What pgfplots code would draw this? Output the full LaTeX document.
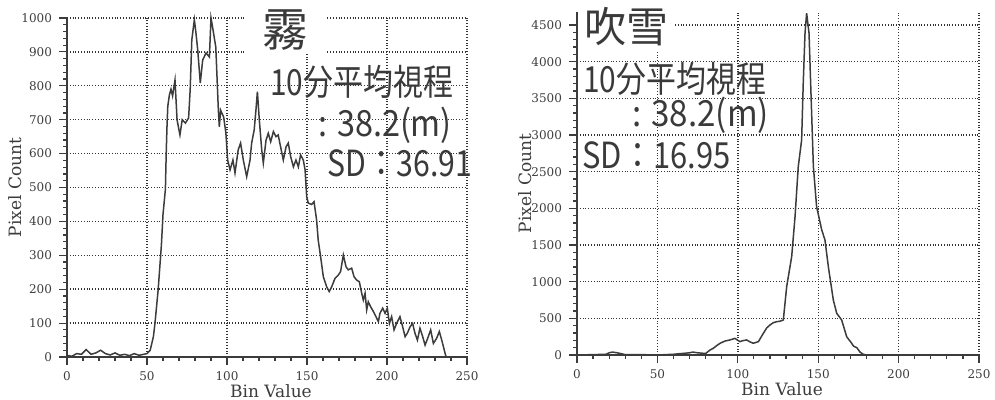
\documentclass[border=0pt]{standalone}
\usepackage{graphicx}
\usepackage{pgfplots}
\pgfplotsset{compat=1.18}
\usepackage{fontspec}
\setmainfont{DejaVu Serif}
\newfontfamily\cjk{Noto Sans CJK JP}
\definecolor{ink}{HTML}{3C3C3C}
\definecolor{txt}{HTML}{3A3A3A}
\pgfplotsset{
  histo/.style={
    scale only axis,
    xmin=0, xmax=250,
    axis lines=left,
    axis line style={-, draw=ink, line width=0.8pt},
    xtick={0,50,...,250}, minor x tick num=4,
    minor y tick num=4,
    grid=major,
    major grid style={densely dotted, draw=black!80, line width=0.7pt},
    tick align=outside,
    major tick length=4pt, minor tick length=2pt,
    every tick/.style={draw=ink, line width=0.6pt},
    ticklabel style={font=\fontsize{6}{7}\selectfont, text=ink},
    /pgf/number format/assume math mode=true,
    /pgf/number format/set thousands separator={},
    label style={font=\fontsize{8.5}{9}\selectfont, text=ink},
    clip=false,
  }
}
\begin{document}
\begin{tikzpicture}
% ---------- left: fog ----------
\begin{axis}[histo,
  at={(33.5pt,-178.5pt)}, anchor=south west,
  width=200pt, height=169.5pt,
  ymin=0, ymax=1000, ytick={0,100,...,1000},
  xlabel={Bin Value}, ylabel={Pixel Count},
  xlabel style={at={(axis description cs:0.51,-0.1)}, anchor=center},
  ylabel style={at={(axis description cs:-0.13,0.5)}, anchor=center},
]
\addplot[ink, line width=0.75pt] coordinates {
(0,5)(3,2)(6,10)(9,8)(12,22)(15,8)(18,12)(21,20)(24,10)(27,6)(30,12)(33,5)(36,8)(39,4)(42,10)(45,5)(48,8)(50,10)
(52,20)(54,60)(55,100)(57,200)(59,330)(60,420)(61.5,495)(62,600)(62.5,680)(63,740)(64,773)(65,790)(66,770)(67.5,817)
(68.8,699)(70.6,655)(72,700)(74,690)(76,705)(77,790)(78,935)(79.6,995)(80.5,960)(81.7,906)(83.3,808)(84.8,876)(86.9,897)
(89,885)(90,1000)(91,973)(93,914)(94.6,728)(95.2,679)(96,728)(97.9,708)(99.3,661)(100.4,581)(101.9,552)(103.7,581)
(105,543)(107,611)(108.5,631)(110.2,581)(112.3,532)(114.4,581)(115.4,631)(117,670)(118.1,729)(119,783)(120.2,699)
(121.7,611)(122.7,572)(124.4,640)(125.8,660)(127.3,635)(129,665)(130.6,650)(132,655)(133.5,620)(135.2,581)(136.9,620)
(138.3,631)(139.8,591)(141.5,561)(143.1,581)(144.6,561)(146,596)(147.7,581)(148.8,552)(149.8,473)(150.8,454)(152.9,450)
(154.4,458)(156,404)(157,345)(158.5,296)(160.2,237)(162.3,207)(163.9,193)(165.4,207)(167.5,232)(169.6,242)(171,252)
(172.7,301)(174.4,266)(175.8,257)(177.9,262)(179.4,237)(181,227)(182.7,222)(184.2,188)(185.2,168)(186.3,188)(187.3,139)
(188.3,163)(189.8,148)(191.5,134)(193.1,119)(194.6,104)(195.6,129)(197.3,144)(198.8,129)(200.2,144)(201.5,99)(202.9,119)
(204.4,80)(206,99)(208.1,119)(209.8,89)(211.3,60)(212.7,70)(214.4,89)(216,99)(217.5,70)(219,50)(220.6,85)(222.3,60)
(223.8,35)(225.8,60)(227.3,80)(229,40)(231,55)(232.7,75)(234.2,50)(236.3,11)(237,0)
};
\end{axis}
% ---------- right: blowing snow ----------
\begin{axis}[histo,
  at={(288.5pt,-177.5pt)}, anchor=south west,
  width=201pt, height=171.6pt,
  ymin=0, ymax=4680, ytick={0,500,...,4500},
  xlabel={Bin Value}, ylabel={Pixel Count},
  xlabel style={at={(axis description cs:0.51,-0.099)}, anchor=center},
  ylabel style={at={(axis description cs:-0.129,0.5)}, anchor=center},
]
\addplot[ink, line width=0.75pt] coordinates {
(0,0)(10,5)(18,10)(20,30)(22,40)(25,30)(28,15)(30,5)(40,5)(50,0)(60,10)(65,20)(70,30)(72,40)(75,30)(80,20)
(82.7,68)(84.7,91)(87,130)(89,160)(92,190)(95.1,205)(98.2,227)(100,200)(101.4,182)(103,195)(105.5,205)(107.5,180)
(109.6,160)(112.8,182)(115.9,296)(118,370)(120,409)(122,440)(124.2,454)(126,460)(128.3,477)(130.4,932)(133.5,1341)
(135.6,1887)(137.6,2569)(139.7,2933)(140.7,3707)(141.8,4389)(142.8,4662)(144.3,4389)(145.3,3707)(147,2569)(149,2023)
(152.2,1705)(154.2,1569)(156.3,1205)(159.4,750)(161.5,569)(164.6,477)(167.7,250)(170.8,160)(172,120)(174,100)
(176,40)(178,10)(180,0)
};
\end{axis}
% ---------- annotations ----------
\node[font=\cjk\fontsize{23}{23}\selectfont, text=txt, fill=white, inner xsep=9pt, inner ysep=2pt] at (142.5pt,-15pt) {霧};
\node[font=\cjk\fontsize{18}{18}\selectfont, text=txt, anchor=west, inner sep=0pt] at (135pt,-41pt) {\scalebox{0.83}[1]{10分平均視程}};
\node[font=\cjk\fontsize{18}{18}\selectfont, text=txt, anchor=west, inner sep=0pt] at (159pt,-62.5pt) {\scalebox{0.9}[1]{: 38.2(m)}};
\node[font=\cjk\fontsize{18}{18}\selectfont, text=txt, anchor=west, inner sep=0pt] at (163.5pt,-81.5pt) {\scalebox{0.84}[1]{SD：36.91}};
\node[font=\cjk\fontsize{21}{21}\selectfont, text=txt, fill=white, inner xsep=2.5pt, inner ysep=2pt] at (313pt,-13.5pt) {吹雪};
\node[font=\cjk\fontsize{18}{18}\selectfont, text=txt, anchor=west, inner sep=0pt] at (291.5pt,-39.5pt) {\scalebox{0.83}[1]{10分平均視程}};
\node[font=\cjk\fontsize{18}{18}\selectfont, text=txt, anchor=west, inner sep=0pt] at (316pt,-57.5pt) {\scalebox{0.92}[1]{: 38.2(m)}};
\node[font=\cjk\fontsize{18}{18}\selectfont, text=txt, anchor=west, inner sep=0pt] at (291pt,-77.5pt) {\scalebox{0.86}[1]{SD：16.95}};
\pgfresetboundingbox
\useasboundingbox (0,0) rectangle (497.5pt,-200pt);
\end{tikzpicture}
\end{document}
